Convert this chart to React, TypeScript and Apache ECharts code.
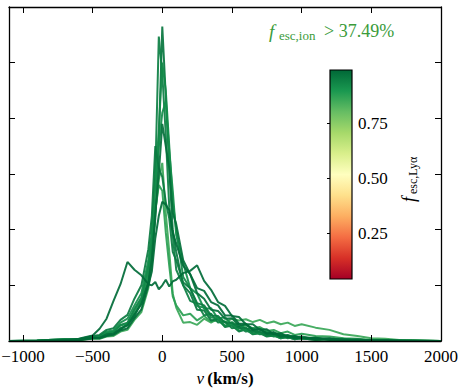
import React, { useEffect, useRef } from "react";
import * as echarts from "echarts";

const V = [-1100, -900, -700, -600, -500, -450, -400, -350, -300, -250, -200, -150, -100, -75, -50, -25, 0, 25, 50, 75, 100, 150, 200, 250, 300, 350, 400, 450, 500, 550, 600, 650, 700, 750, 800, 850, 900, 950, 1000, 1100, 1200, 1300, 1400, 1500, 1600, 1700, 1800, 2000];

const S1 = [0, 0, 0.02, 0.03, 0.05, 0.08, 0.1, 0.16, 0.2, 0.31, 0.44, 0.72, 1.05, 1.6, 2.2, 3.6, 5.65, 4.4, 3.1, 2.0, 1.6, 1.0, 0.86, 0.56, 0.55, 0.37, 0.4, 0.25, 0.28, 0.17, 0.21, 0.12, 0.14, 0.08, 0.1, 0.05, 0.07, 0.03, 0.05, 0.02, 0.03, 0.01, 0.02, 0, 0.01, 0, 0, 0];
const S2 = [0, 0.01, 0.03, 0.03, 0.07, 0.08, 0.15, 0.17, 0.29, 0.33, 0.58, 0.78, 1.35, 1.85, 3.0, 5.47, 4.8, 3.7, 2.4, 1.9, 1.28, 1.0, 0.72, 0.67, 0.46, 0.49, 0.33, 0.35, 0.23, 0.25, 0.17, 0.19, 0.12, 0.13, 0.08, 0.1, 0.05, 0.07, 0.04, 0.05, 0.02, 0.03, 0.01, 0.02, 0, 0.01, 0, 0];
const S3 = [0, 0, 0.02, 0.02, 0.06, 0.07, 0.14, 0.16, 0.28, 0.31, 0.54, 0.74, 1.25, 1.75, 2.8, 3.8, 5.0, 4.5, 3.5, 2.5, 2.0, 1.15, 0.95, 0.63, 0.6, 0.42, 0.41, 0.27, 0.3, 0.19, 0.2, 0.13, 0.15, 0.09, 0.1, 0.05, 0.07, 0.03, 0.05, 0.02, 0.03, 0.01, 0.01, 0.01, 0, 0, 0, 0];
const S4 = [0, 0.01, 0.03, 0.02, 0.07, 0.09, 0.17, 0.19, 0.33, 0.4, 0.64, 0.86, 1.45, 1.95, 2.9, 3.5, 4.1, 4.3, 3.4, 2.7, 1.9, 1.4, 0.95, 0.85, 0.58, 0.59, 0.4, 0.43, 0.29, 0.31, 0.21, 0.23, 0.15, 0.17, 0.1, 0.12, 0.07, 0.09, 0.05, 0.06, 0.03, 0.04, 0.02, 0.02, 0.01, 0.01, 0, 0];
const S5 = [0, 0.01, 0.03, 0.03, 0.09, 0.11, 0.2, 0.23, 0.38, 0.47, 0.76, 1.0, 1.65, 2.25, 3.5, 3.1, 2.95, 2.5, 2.2, 1.6, 1.45, 1.05, 0.95, 0.68, 0.64, 0.46, 0.45, 0.33, 0.33, 0.23, 0.24, 0.16, 0.17, 0.1, 0.12, 0.07, 0.08, 0.05, 0.06, 0.03, 0.04, 0.02, 0.02, 0.01, 0.01, 0, 0, 0];
const S6 = [0, 0, 0.02, 0.02, 0.06, 0.06, 0.12, 0.13, 0.23, 0.28, 0.48, 0.66, 1.05, 1.45, 2.3, 3.0, 3.9, 3.5, 3.1, 2.3, 2.1, 1.45, 1.2, 0.86, 0.76, 0.56, 0.54, 0.4, 0.41, 0.27, 0.3, 0.2, 0.22, 0.14, 0.16, 0.1, 0.11, 0.07, 0.08, 0.04, 0.05, 0.02, 0.03, 0.01, 0.02, 0, 0.01, 0];
const S7 = [0, 0, 0.01, 0.04, 0.1, 0.22, 0.4, 0.72, 1.02, 1.42, 1.28, 1.18, 1.02, 1.0, 1.06, 0.93, 1.0, 1.1, 0.98, 1.07, 1.1, 1.22, 1.26, 1.36, 1.08, 0.92, 0.7, 0.63, 0.45, 0.43, 0.3, 0.3, 0.2, 0.21, 0.12, 0.14, 0.07, 0.09, 0.05, 0.06, 0.02, 0.03, 0.01, 0.02, 0, 0.01, 0, 0];
const S8 = [0, 0, 0.01, 0.02, 0.04, 0.04, 0.08, 0.09, 0.17, 0.2, 0.38, 0.52, 0.95, 1.35, 2.3, 2.9, 3.2, 2.3, 1.6, 0.85, 0.6, 0.33, 0.34, 0.29, 0.4, 0.33, 0.42, 0.34, 0.4, 0.37, 0.39, 0.34, 0.38, 0.32, 0.35, 0.3, 0.33, 0.27, 0.3, 0.24, 0.2, 0.12, 0.09, 0.05, 0.04, 0.02, 0.02, 0];
const S9 = [0, 0, 0.02, 0.01, 0.05, 0.05, 0.1, 0.12, 0.22, 0.28, 0.48, 0.67, 1.15, 1.55, 2.35, 2.8, 2.7, 1.95, 1.35, 0.8, 0.64, 0.46, 0.49, 0.37, 0.45, 0.35, 0.37, 0.27, 0.34, 0.25, 0.28, 0.23, 0.25, 0.18, 0.2, 0.14, 0.17, 0.11, 0.13, 0.09, 0.08, 0.05, 0.04, 0.02, 0.02, 0.01, 0.01, 0];
const S10 = [0, 0, 0.02, 0.02, 0.05, 0.05, 0.09, 0.11, 0.19, 0.23, 0.41, 0.57, 1.0, 1.25, 1.85, 2.25, 2.5, 2.45, 2.35, 1.95, 1.75, 1.35, 1.2, 0.95, 0.9, 0.7, 0.64, 0.46, 0.46, 0.31, 0.31, 0.2, 0.21, 0.13, 0.14, 0.08, 0.09, 0.05, 0.06, 0.03, 0.04, 0.01, 0.02, 0, 0.01, 0, 0, 0];

const SERIES = [S8, S9, S1, S2, S3, S4, S5, S6, S7, S10];
const FESC_LYA = [0.86, 0.88, 0.97, 0.95, 0.93, 0.92, 0.96, 0.98, 0.99, 0.99];

const X_TICKS = [-1000, -500, 0, 500, 1000, 1500, 2000];
const CB_TICKS = [0.25, 0.5, 0.75];
const CB_MIN = 0.04;
const CB_MAX = 0.995;

const RDYLGN = ["#a50026", "#d73027", "#f46d43", "#fdae61", "#fee08b", "#ffffbf", "#d9ef8b", "#a6d96a", "#66bd63", "#1a9850", "#006837"];

function hexToRgb(h: string) {
  const n = parseInt(h.slice(1), 16);
  return [(n >> 16) & 255, (n >> 8) & 255, n & 255];
}
function cmap(t: number) {
  const tt = Math.max(0, Math.min(1, t)) * (RDYLGN.length - 1);
  const i = Math.min(RDYLGN.length - 2, Math.floor(tt));
  const f = tt - i;
  const a = hexToRgb(RDYLGN[i]);
  const b = hexToRgb(RDYLGN[i + 1]);
  const c = a.map((v, k) => Math.round(v + (b[k] - v) * f));
  return `rgb(${c[0]},${c[1]},${c[2]})`;
}

const FONT = "Liberation Serif";

export default function App() {
  const ref = useRef<HTMLDivElement>(null);
  useEffect(() => {
    const chart = echarts.init(ref.current!, null, { renderer: "svg" });
    const lineSeries = SERIES.map((s, k) => ({
      type: "line",
      xAxisIndex: 0,
      yAxisIndex: 0,
      data: V.map((v, i) => [v, s[i]]),
      showSymbol: false,
      symbol: "none",
      lineStyle: { width: 2, color: cmap((FESC_LYA[k] - CB_MIN) / (CB_MAX - CB_MIN)), opacity: 0.92 },
      z: 2,
    }));
    const n = RDYLGN.length;
    const stops = RDYLGN.slice().reverse().map((c, i) => ({ offset: i / (n - 1), color: c }));
    const axisLineStyle = { lineStyle: { color: "#000", width: 1.3 } };
    const tickStyle = { inside: true, length: 6, lineStyle: { color: "#000", width: 1 } };
    chart.setOption({
      animation: false,
      grid: [
        { left: 9, top: 7, width: 432, height: 334, outerBoundsMode: "none", containLabel: false },
        { left: 330, top: 70, width: 22, height: 209, outerBoundsMode: "none", containLabel: false },
      ],
      xAxis: [
        {
          type: "value", gridIndex: 0, min: -1100, max: 2000, position: "bottom",
          axisLine: { show: true, onZero: false, ...axisLineStyle },
          axisTick: { ...tickStyle, customValues: X_TICKS },
          axisLabel: {
            customValues: X_TICKS, margin: 7, color: "#000", fontFamily: FONT, fontSize: 17,
            formatter: (v: number) => (v < 0 ? "\u2212" + Math.abs(v) : String(v)),
          },
          splitLine: { show: false },
          name: "{i|v} {b|(km/s)}", nameLocation: "middle", nameGap: 28,
          nameTextStyle: {
            rich: {
              i: { fontFamily: FONT, fontStyle: "italic", fontSize: 17, color: "#000" },
              b: { fontFamily: FONT, fontWeight: "bold", fontSize: 17, color: "#000" },
            },
          },
          z: 10,
        },
        {
          type: "value", gridIndex: 0, min: -1100, max: 2000, position: "top",
          axisLine: { show: true, onZero: false, ...axisLineStyle },
          axisTick: { ...tickStyle, customValues: X_TICKS },
          axisLabel: { show: false },
          splitLine: { show: false },
        },
        { type: "value", gridIndex: 1, min: 0, max: 1, show: false },
      ],
      yAxis: [
        {
          type: "value", gridIndex: 0, min: 0, max: 6, interval: 1, position: "left",
          axisLine: { show: true, onZero: false, ...axisLineStyle },
          axisTick: tickStyle, axisLabel: { show: false }, splitLine: { show: false },
        },
        {
          type: "value", gridIndex: 0, min: 0, max: 6, interval: 1, position: "right",
          axisLine: { show: true, onZero: false, ...axisLineStyle },
          axisTick: tickStyle, axisLabel: { show: false }, splitLine: { show: false },
        },
        {
          type: "value", gridIndex: 1, min: CB_MIN, max: CB_MAX, position: "right",
          axisLine: { show: false },
          axisTick: { show: true, inside: true, length: 3, customValues: CB_TICKS, lineStyle: { color: "#000" } },
          axisLabel: {
            customValues: CB_TICKS, margin: 6, color: "#000", fontFamily: FONT, fontSize: 17,
            formatter: (v: number) => v.toFixed(2),
          },
          splitLine: { show: false },
          z: 10,
        },
      ],
      series: [
        ...lineSeries,
        {
          type: "custom",
          xAxisIndex: 2,
          yAxisIndex: 2,
          data: [[0, CB_MIN, CB_MAX]],
          renderItem: (params: any, api: any) => {
            const p0 = api.coord([0, api.value(2)]);
            const p1 = api.coord([1, api.value(1)]);
            return {
              type: "rect",
              shape: { x: p0[0], y: p0[1], width: p1[0] - p0[0], height: p1[1] - p0[1] },
              style: { fill: new echarts.graphic.LinearGradient(0, 0, 0, 1, stops), stroke: "#000", lineWidth: 1.2 },
            };
          },
          z: 5,
        },
      ],
      graphic: [
        { type: "text", left: 269, top: 22, style: { text: "f", font: `italic 19px "${FONT}"`, fill: "#3a9b3a" } },
        { type: "text", left: 279, top: 29, style: { text: "esc,ion", font: `13px "${FONT}"`, fill: "#3a9b3a" } },
        { type: "text", left: 324, top: 22, style: { text: "> 37.49%", font: `18px "${FONT}"`, fill: "#3a9b3a" } },
        {
          type: "group", x: 408, y: 171, rotation: Math.PI / 2,
          children: [
            { type: "text", x: -31, y: -8, style: { text: "f", font: `italic 18px "${FONT}"`, fill: "#000" } },
            { type: "text", x: -23, y: -1, style: { text: "esc,Ly\u03b1", font: `12px "${FONT}"`, fill: "#000" } },
          ],
        },
      ],
    });
    return () => chart.dispose();
  }, []);
  return <div ref={ref} style={{ position: "fixed", left: 0, top: 0, width: 461, height: 389, background: "#fff" }} />;
}
